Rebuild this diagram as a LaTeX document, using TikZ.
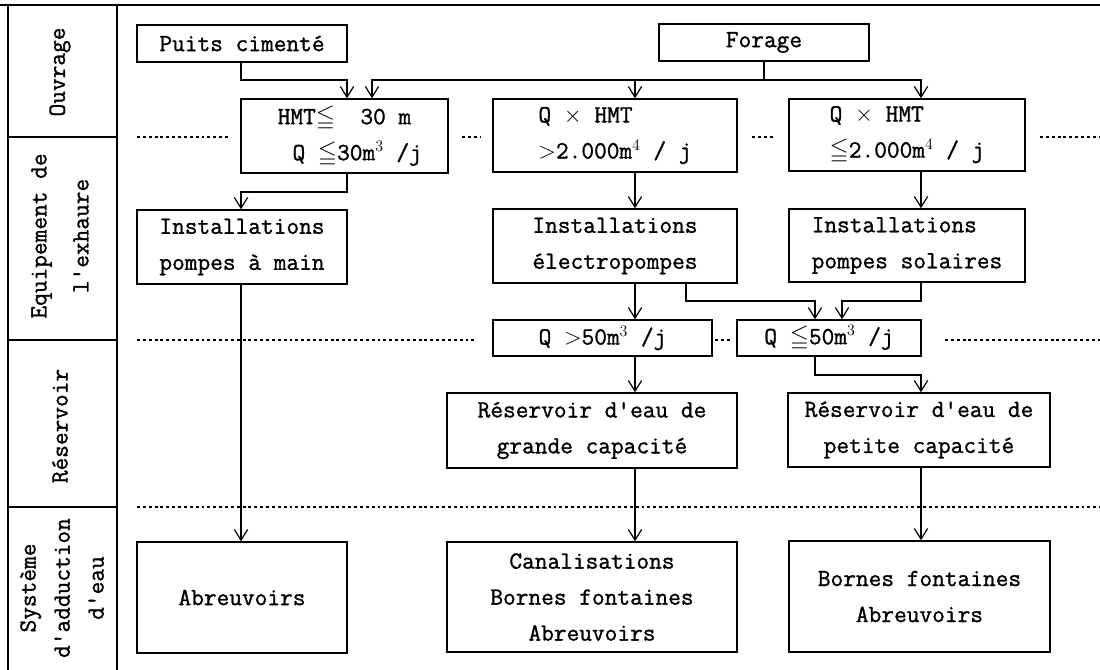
\documentclass[tikz,border=0pt]{standalone}
\usepackage{amssymb}
\usepackage{fontspec}
\newfontfamily\diagtt{Latin Modern Mono}[FakeBold=1.2]
\usetikzlibrary{arrows.meta}
\begin{document}
\begin{tikzpicture}[x=0.75pt,y=-0.75pt,
  box/.style={draw,line width=1.1pt,rectangle,inner sep=0pt,align=center,
    font=\fontsize{18.5}{27}\selectfont\diagtt},
  lab/.style={inner sep=0pt,align=center,rotate=90,
    font=\fontsize{18.5}{25.5}\selectfont\diagtt},
  arr/.style={line width=0.9pt,-{Straight Barb[length=8pt,width=10pt,line width=0.9pt]}},
  dots/.style={line width=0.8pt,dash pattern=on 2.2pt off 2.2pt},
  frame/.style={line width=1pt}]
\useasboundingbox (0,0) rectangle (1100,670);
% frame of left column
\draw[frame] (0,5) -- (1100,5);
\draw[frame] (8,5) -- (8,670);
\draw[frame] (117,5) -- (117,670);
\draw[frame] (8,137) -- (117,137);
\draw[frame] (8,340) -- (117,340);
\draw[frame] (8,507) -- (117,507);
% row labels
\node[lab] (lOuv) at (60,72) {Ouvrage};
\node[lab,font=\fontsize{18.5}{31.5}\selectfont\diagtt] (lEqu) at (60,236) {Equipement de\\l'exhaure};
\node[lab] (lRes) at (60,426) {Réservoir};
\node[lab] (lSys) at (62,588) {Système\\d'adduction\\d'eau};
% dotted separators
\draw[dots] (137,137) -- (228,137);
\draw[dots] (462,137) -- (480,137);
\draw[dots] (752,137) -- (775,137);
\draw[dots] (1040,137) -- (1100,137);
\draw[dots] (137,340) -- (477,340);
\draw[dots] (715,340) -- (731,340);
\draw[dots] (945,340) -- (1100,340);
\draw[dots] (137,507) -- (1100,507);
% boxes
\node[box,minimum width=157.5pt,minimum height=27.75pt] (puits) at (242,43.5) {Puits cimenté};
\node[box,minimum width=157.5pt,minimum height=27.75pt] (forage) at (764,42.5) {Forage};
\node[box,minimum width=155.25pt,minimum height=55.5pt] (hmt) at (344.5,136) {HMT$\leqq$~~30 m\\~~Q $\leqq$30m$^3$ /j};
\node[box,minimum width=183pt,minimum height=54.75pt,align=left] (qh1) at (615,135.5) {Q $\times$ HMT\\$>$2.000m$^4$ / j};
\node[box,minimum width=177pt,minimum height=54pt,align=left] (qh2) at (907,135) {Q $\times$ HMT\\$\leqq$2.000m$^4$ / j};
\node[box,minimum width=157.5pt,minimum height=55.5pt,align=left] (inst1) at (242,247) {Installations\\pompes à main};
\node[box,minimum width=183pt,minimum height=55.5pt,align=left] (inst2) at (615,246) {Installations\\électropompes};
\node[box,minimum width=177pt,minimum height=54.75pt,align=left] (inst3) at (907,245.5) {Installations\\pompes solaires};
\node[box,minimum width=164.25pt,minimum height=27pt] (q50a) at (602.5,338) {Q $>$50m$^3$ /j};
\node[box,minimum width=138pt,minimum height=27pt] (q50b) at (829,338) {Q $\leqq$50m$^3$ /j};
\node[box,minimum width=217.5pt,minimum height=56.25pt] (res1) at (592,430.5) {Réservoir d'eau de\\grande capacité};
\node[box,minimum width=196.5pt,minimum height=55.5pt] (res2) at (919,430) {Réservoir d'eau de\\petite capacité};
\node[box,minimum width=157.5pt,minimum height=83.25pt] (abr) at (242,597.5) {Abreuvoirs};
\node[box,minimum width=217.5pt,minimum height=82.5pt] (can) at (592,597) {Canalisations\\Bornes fontaines\\Abreuvoirs};
\node[box,minimum width=195.75pt,minimum height=83.25pt] (bor) at (919.5,596.5) {Bornes fontaines\\Abreuvoirs};
% guide coordinates
\coordinate (X1) at (241,0);
\coordinate (X2) at (347,0);
\coordinate (X3) at (372,0);
\coordinate (X4) at (635,0);
\coordinate (X5) at (686,0);
\coordinate (X6) at (815,0);
\coordinate (X7) at (842,0);
\coordinate (X8) at (921,0);
\coordinate (Y1) at (0,80);
\coordinate (Y3) at (0,192);
\coordinate (Y4) at (0,301);
\coordinate (Y5) at (0,375);
% connectors
\draw[arr] (puits.south -| X1) |- (X2 |- Y1) -- (X2 |- hmt.north);
\draw[arr] (forage.south) |- (X3 |- Y1) -- (X3 |- hmt.north);
\draw[arr] (forage.south) |- (X8 |- Y1) -- (X8 |- qh2.north);
\draw[arr] (X4 |- Y1) -- (X4 |- qh1.north);
\draw[arr] (hmt.south -| X2) |- (X1 |- Y3) -- (X1 |- inst1.north);
\draw[arr] (qh1.south -| X4) -- (inst2.north -| X4);
\draw[arr] (qh2.south -| X8) -- (inst3.north -| X8);
\draw[arr] (inst1.south -| X1) -- (abr.north -| X1);
\draw[arr] (inst2.south -| X4) -- (q50a.north -| X4);
\draw[arr] (inst2.south -| X5) |- (X6 |- Y4) -- (X6 |- q50b.north);
\draw[arr] (inst3.south -| X8) |- (X7 |- Y4) -- (X7 |- q50b.north);
\draw[arr] (q50a.south -| X4) -- (res1.north -| X4);
\draw[arr] (q50b.south -| X6) |- (X8 |- Y5) -- (X8 |- res2.north);
\draw[arr] (res1.south -| X4) -- (can.north -| X4);
\draw[arr] (res2.south -| X8) -- (bor.north -| X8);
\end{tikzpicture}
\end{document}
